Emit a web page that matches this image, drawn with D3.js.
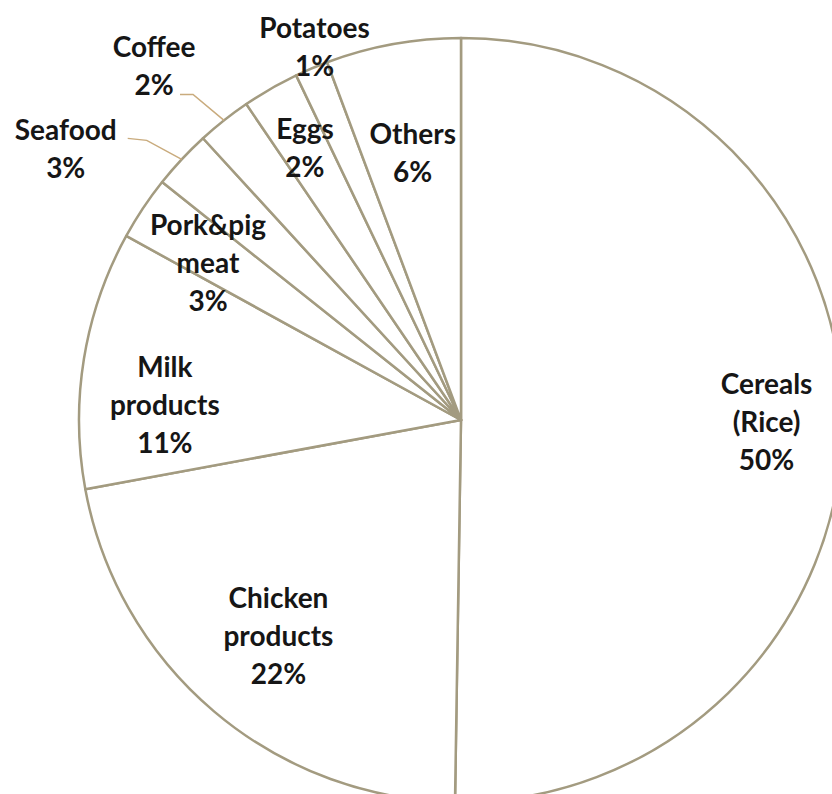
<!DOCTYPE html>
<html>
<head>
<meta charset="utf-8">
<script src="https://cdn.jsdelivr.net/npm/d3@7"></script>
<style>
  body { margin: 0; background: #fff; }
  svg { display: block; }
  .lbl { font-family: Lato, "Open Sans", sans-serif; font-weight: 700; font-size: 28px; fill: #161616; }
</style>
</head>
<body>
<div id="chart"></div>
<script>
// data - shares (labels show rounded %)
var categories = ["Cereals (Rice)", "Chicken products", "Milk products", "Pork&pig meat", "Seafood", "Coffee", "Eggs", "Potatoes", "Others"];
var shares = [50.25, 21.85, 10.9, 2.7, 2.5, 2.3, 2.4, 1.4, 5.7];
// how each label is broken into lines
var labelLines = [["Cereals", "(Rice)"], ["Chicken", "products"], ["Milk", "products"], ["Pork&pig", "meat"], ["Seafood"], ["Coffee"], ["Eggs"], ["Potatoes"], ["Others"]];

var width = 832, height = 794;
var cx = 461, cy = 420, radius = 382;
var lineH = 38;

// label placement: ratio of radius along the slice middle, then a nudge
var labelLayout = {
  "Cereals (Rice)": { r: 0.80, dx: 0, dy: 0 },
  "Chicken products": { r: 0.74, dx: 0, dy: 0 },
  "Milk products": { r: 0.78, dx: -2, dy: 33 },
  "Pork&pig meat": { r: 0.78, dx: -5, dy: 8 },
  "Seafood": { out: true, elbow: [-35, -19], end: [-54, -21], tx: -116, ty: -10 },
  "Coffee": { out: true, elbow: [-31, -26], end: [-44, -26], tx: -70, ty: -54 },
  "Eggs": { r: 0.82, dx: 0, dy: 0 },
  "Potatoes": { out: true, tx: 3, ty: -21 },
  "Others": { r: 0.71, dx: 0, dy: 0 }
};

var svg = d3.select("#chart").append("svg").attr("width", width).attr("height", height);
var g = svg.append("g").attr("transform", "translate(" + cx + "," + cy + ")");

var rows = categories.map(function(c, i) { return { name: c, value: shares[i], lines: labelLines[i] }; });

var pie = d3.pie().sort(null).value(function(d) { return d.value; });
var arc = d3.arc().innerRadius(0).outerRadius(radius);
var arcs = pie(rows);

g.selectAll("path.slice")
  .data(arcs)
  .enter().append("path")
  .attr("class", "slice")
  .attr("d", arc)
  .attr("fill", "#ffffff")
  .attr("stroke", "#a39b80")
  .attr("stroke-width", 2.5)
  .attr("stroke-linejoin", "round");

function pointAt(angle, r) {
  return [r * Math.sin(angle), -r * Math.cos(angle)];
}

arcs.forEach(function(a) {
  var lay = labelLayout[a.data.name];
  var mid = (a.startAngle + a.endAngle) / 2;
  var pct = Math.round(a.data.value) + "%";
  var lines = a.data.lines.concat([pct]);
  var x, y;
  if (lay.out) {
    var p = pointAt(mid, radius);
    if (lay.elbow) {
      g.append("path")
        .attr("d", d3.line()([p, [p[0] + lay.elbow[0], p[1] + lay.elbow[1]], [p[0] + lay.end[0], p[1] + lay.end[1]]]))
        .attr("fill", "none")
        .attr("stroke", "#c9ab7d")
        .attr("stroke-width", 1.5);
    }
    x = p[0] + lay.tx; y = p[1] + lay.ty;
  } else {
    var q = pointAt(mid, radius * lay.r);
    x = q[0] + lay.dx; y = q[1] + lay.dy;
  }
  var top = y - (lines.length - 1) * lineH / 2;
  var t = g.append("text").attr("class", "lbl").attr("text-anchor", "middle");
  lines.forEach(function(s, k) {
    t.append("tspan").attr("x", x).attr("y", top + k * lineH).attr("dy", "0.35em").text(s);
  });
});
</script>
</body>
</html>
